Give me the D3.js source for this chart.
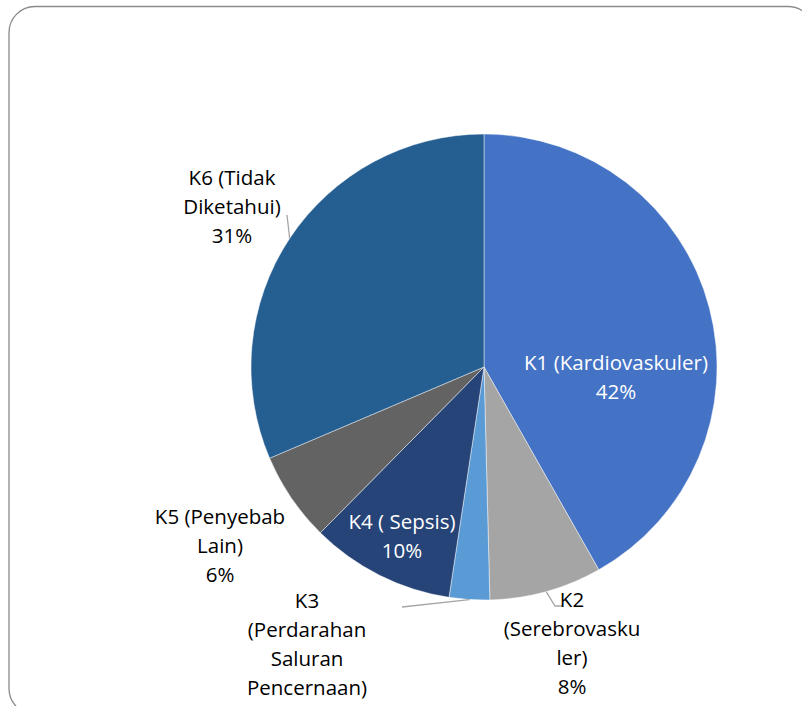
<!DOCTYPE html>
<html>
<head>
<meta charset="utf-8">
<script src="https://cdn.jsdelivr.net/npm/d3@7"></script>
<style>
  body { margin: 0; background: #fff; }
  svg { display: block; }
  text { font-family: "Open Sans", Lato, sans-serif; font-size: 20.5px; }
</style>
</head>
<body>
<div class="plot"></div>
<script>
// data (percent of cases)
const categories = ["K1", "K2", "K3", "K4", "K5", "K6"];
const values = [41.8, 7.8, 2.8, 10.0, 6.2, 31.4];
const colors = ["#4472C4", "#A5A5A5", "#5B9BD5", "#264478", "#636363", "#255E91"];
// label text, wrapped the way the chart wraps it
const labelLines = [
  ["K1 (Kardiovaskuler)"],
  ["K2", "(Serebrovasku", "ler)"],
  ["K3", "(Perdarahan", "Saluran", "Pencernaan)"],
  ["K4 ( Sepsis)"],
  ["K5 (Penyebab", "Lain)"],
  ["K6 (Tidak", "Diketahui)"]
];

let width = 802, height = 706;
let cx = 484, cy = 367, radius = 233;
let lineHeight = 29;

// label anchors (centre x, first baseline) relative to the pie centre,
// leader = extra points of the leader line after the rim point
const labelLayout = {
  K1: { x: 132, y: 3, inside: true },
  K2: { x: 88, y: 240, leader: [[71, 239], [79, 239]] },
  K3: { x: -177, y: 241, leader: [[-82, 240]] },
  K4: { x: -82, y: 162, inside: true },
  K5: { x: -264, y: 157 },
  K6: { x: -252, y: -182, leader: [[-197, -152]] }
};

const svg = d3.select(".plot")
  .append("svg")
  .attr("width", width)
  .attr("height", height);

// chart area border (runs off the right and bottom of the picture)
svg.append("rect")
  .attr("x", 9)
  .attr("y", 6.5)
  .attr("width", 805)
  .attr("height", 708)
  .attr("rx", 26)
  .attr("fill", "none")
  .attr("stroke", "#8a8a8a")
  .attr("stroke-width", 1.3);

const pie = d3.pie().sort(null).value(d => d);
const arcs = pie(values);
const arc = d3.arc().innerRadius(0).outerRadius(radius);
const rim = d3.arc().innerRadius(radius).outerRadius(radius);

const g = svg.append("g")
  .attr("transform", "translate(" + cx + "," + cy + ")");

g.selectAll("path.slice")
  .data(arcs)
  .enter()
  .append("path")
  .attr("class", "slice")
  .attr("d", arc)
  .attr("fill", (d, i) => colors[i])
  .attr("stroke", "#fff")
  .attr("stroke-opacity", 0.6)
  .attr("stroke-width", 0.75);

// leader lines
arcs.forEach((d, i) => {
  const lay = labelLayout[categories[i]];
  if (!lay.leader) return;
  const pts = [rim.centroid(d)].concat(lay.leader);
  g.append("path")
    .attr("d", d3.line()(pts))
    .attr("fill", "none")
    .attr("stroke", "#a6a6a6")
    .attr("stroke-width", 1.3);
});

// data labels
const pct = v => Math.round(v) + "%";
arcs.forEach((d, i) => {
  const lay = labelLayout[categories[i]];
  const lines = labelLines[i].concat([pct(values[i])]);
  const t = g.append("text")
    .attr("text-anchor", "middle")
    .attr("fill", lay.inside ? "#ffffff" : "#000000");
  lines.forEach((line, k) => {
    t.append("tspan")
      .attr("x", lay.x)
      .attr("y", lay.y + k * lineHeight)
      .text(line);
  });
});
</script>
</body>
</html>
